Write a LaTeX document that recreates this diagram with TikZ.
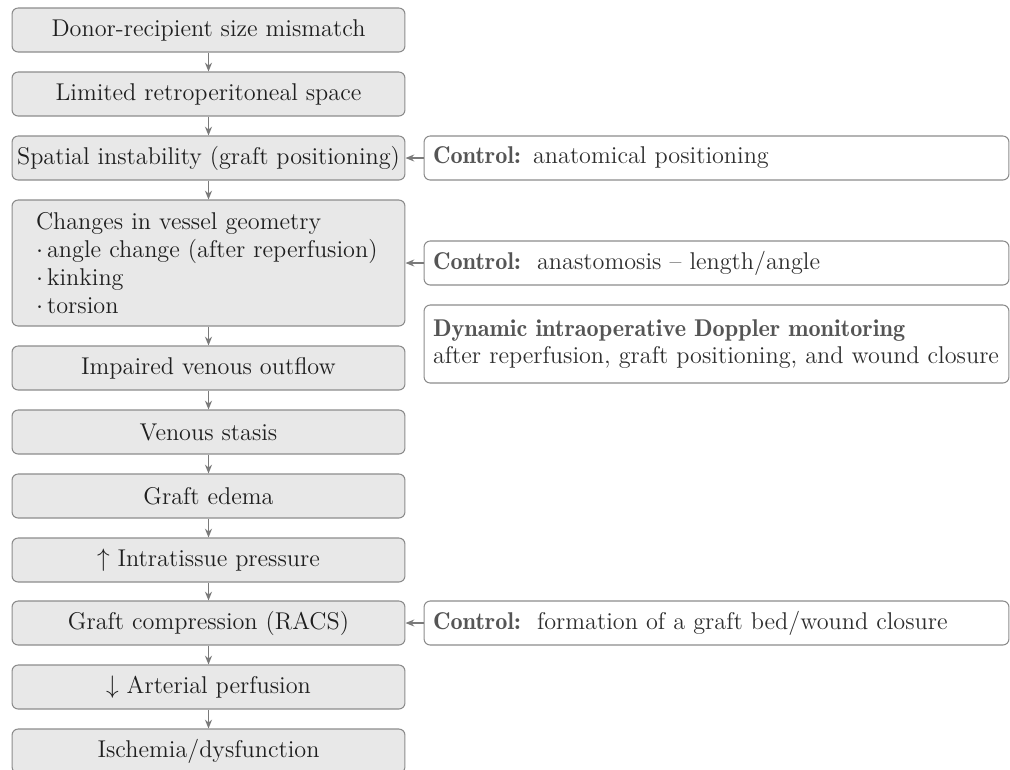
\documentclass[tikz,border=0pt]{standalone}
\usepackage{tikz}
\usetikzlibrary{positioning,arrows.meta}

\definecolor{boxfill}{HTML}{E8E8E8}
\definecolor{boxline}{HTML}{8C8C8C}
\definecolor{arrowgray}{HTML}{7A7A7A}
\definecolor{ctrlgray}{HTML}{555555}

% demi bold for the control headings
\newcommand{\ctrlhead}[1]{{\color{ctrlgray}\fontseries{b}\selectfont #1}}

\begin{document}
\begin{tikzpicture}[x=0.02cm, y=-0.02cm,
    stage/.style={draw=boxline, fill=boxfill, rounded corners=3.5pt, line width=0.6pt,
      minimum width=7.86cm, minimum height=0.88cm, inner sep=0pt,
      font=\fontsize{13.8}{16}\selectfont, text=black!88},
    control/.style={draw=boxline, fill=white, rounded corners=3.5pt, line width=0.6pt,
      minimum width=11.7cm, minimum height=0.88cm, inner xsep=0.18cm, inner ysep=0pt,
      text width=11.34cm, align=left, font=\fontsize{13.8}{15.5}\selectfont, text=black!82},
    flow/.style={draw=arrowgray, line width=0.8pt, -{Stealth[length=5pt,width=4pt]}}]

    % page size, the last box runs off the bottom
    \useasboundingbox (0,0) rectangle (1010,769);
    \clip (0,0) rectangle (1010,769);

    % the chain of stages
    \node[stage] (donor) at (208.5,30) {Donor-recipient size mismatch};
    \node[stage] (space) at (208.5,94) {Limited retroperitoneal space};
    \node[stage] (instab) at (208.5,158) {Spatial instability (graft positioning)};
    \node[stage, minimum height=2.52cm, inner xsep=0.48cm, text width=6.9cm, align=left]
      (geom) at (208.5,263) {Changes in vessel geometry\\
      $\cdot$\,angle change (after reperfusion)\\
      $\cdot$\,kinking\\
      $\cdot$\,torsion};
    \node[stage] (outflow) at (208.5,368) {Impaired venous outflow};
    \node[stage] (stasis) at (208.5,432) {Venous stasis};
    \node[stage] (edema) at (208.5,496) {Graft edema};
    \node[stage] (pressure) at (208.5,560) {$\uparrow$ Intratissue pressure};
    \node[stage] (compr) at (208.5,623) {Graft compression (RACS)};
    \node[stage] (perfusion) at (208.5,687) {$\downarrow$ Arterial perfusion};
    \node[stage] (ischemia) at (208.5,751) {Ischemia/dysfunction};

    \foreach \a/\b in {donor/space, space/instab, instab/geom, geom/outflow,
        outflow/stasis, stasis/edema, edema/pressure, pressure/compr,
        compr/perfusion, perfusion/ischemia}
      \draw[flow] (\a) -- (\b);

    % control measures on the right
    \node[control] (ctrlpos) at (716.5,158)
      {\ctrlhead{Control:} anatomical positioning};
    \node[control] (ctrlanast) at (716.5,263)
      {\ctrlhead{Control:}\ \ anastomosis -- length/angle};
    \node[control, minimum height=1.56cm] (doppler) at (716.5,344)
      {\ctrlhead{Dynamic intraoperative Doppler monitoring}\\
      after reperfusion, graft positioning, and wound closure};
    \node[control] (ctrlbed) at (716.5,623)
      {\ctrlhead{Control:}\ \ formation of a graft bed/wound closure};

    \draw[flow, line width=0.6pt] (ctrlpos) -- (instab);
    \draw[flow, line width=0.6pt] (ctrlanast) -- (geom);
    \draw[flow, line width=0.6pt] (ctrlbed) -- (compr);

\end{tikzpicture}
\end{document}
